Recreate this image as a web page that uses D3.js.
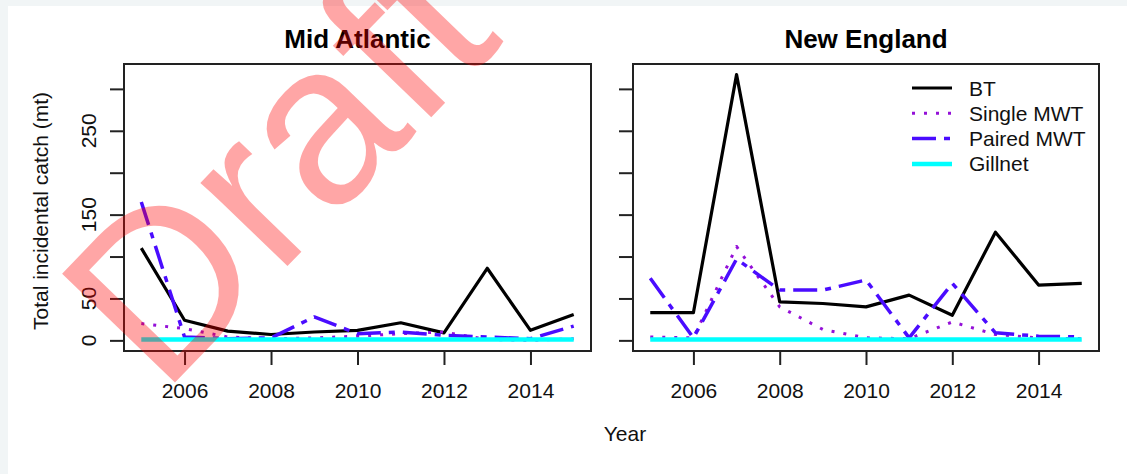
<!DOCTYPE html>
<html><head><meta charset="utf-8">
<script src="https://cdn.jsdelivr.net/npm/d3@7"></script>
<style>html,body{margin:0;padding:0;background:#fff;}svg{display:block;}</style>
</head><body>
<script>
// ---- data ----
const years = [2005, 2006, 2007, 2008, 2009, 2010, 2011, 2012, 2013, 2014, 2015];
const maBT     = [110, 24, 11, 7, 10, 12, 21, 9, 86, 12, 31];
const maSingle = [20, 14, 4, 2, 3, 5, 8, 10, 1, 0, 2];
const maPaired = [165, 4, 2, 3, 28, 8, 10, 6, 4, 2, 17];
const maGill   = [1, 1, 1, 1, 1, 1, 1, 1, 1, 1, 1];
const neBT     = [33, 33, 317, 46, 44, 40, 54, 30, 129, 66, 68];
const neSingle = [4, 3, 112, 40, 13, 3, 2, 22, 7, 3, 2];
const nePaired = [74, 3, 97, 60, 60, 72, 3, 68, 9, 5, 4];
const neGill   = [1, 1, 1, 1, 1, 1, 1, 1, 1, 1, 1];
const panelTitles = ["Mid Atlantic", "New England"];
const seriesNames = ["BT", "Single MWT", "Paired MWT", "Gillnet"];
const xTicks = [2006, 2008, 2010, 2012, 2014];
const yTicks = [0, 50, 100, 150, 200, 250, 300];
const yLabelled = [0, 50, 150, 250];

// ---- styles ----
const styles = [
  {color: "#000000", width: 3.2, dash: null},
  {color: "#9410d8", width: 3, dash: "3,9"},
  {color: "#4a0cff", width: 3.5, dash: "24,8,6,8"},
  {color: "#00ffff", width: 4.5, dash: null}
];
const W = 1127, H = 474;
const font = "'Liberation Sans', Arial, sans-serif";
const svg = d3.select("body").append("svg").attr("width", W).attr("height", H);
svg.append("rect").attr("width", W).attr("height", H).attr("fill", "#f1f5f6");
svg.append("rect").attr("x", 8).attr("y", 6).attr("width", W - 8).attr("height", H - 6).attr("fill", "#fff");

const panels = [
  {x0: 124, x1: 591, series: [maBT, maSingle, maPaired, maGill], labels: true},
  {x0: 633, x1: 1099, series: [neBT, neSingle, nePaired, neGill], labels: false}
];
const pTop = 64, pBottom = 351;
const all = panels.flatMap(p => p.series.flat());
const lo = d3.min(all), hi = d3.max(all), pad = (hi - lo) * 0.04;
const y = d3.scaleLinear().domain([lo - pad, hi + pad]).range([pBottom, pTop]);

panels.forEach((p, i) => {
  const x = d3.scaleLinear().domain([2005 - 0.4, 2015 + 0.4]).range([p.x0, p.x1]);
  const g = svg.append("g");
  p.series.forEach((vals, k) => {
    const line = d3.line().x((d, j) => x(years[j])).y(d => y(d));
    g.append("path").attr("d", line(vals)).attr("fill", "none")
      .attr("stroke", styles[k].color).attr("stroke-width", styles[k].width)
      .attr("stroke-dasharray", styles[k].dash).attr("stroke-linejoin", "round");
  });
  g.append("rect").attr("x", p.x0).attr("y", pTop).attr("width", p.x1 - p.x0).attr("height", pBottom - pTop)
    .attr("fill", "none").attr("stroke", "#222").attr("stroke-width", 2);
  const ya = g.append("g").attr("transform", `translate(${p.x0},0)`)
    .call(d3.axisLeft(y).tickValues(yTicks).tickSize(14).tickSizeOuter(0).tickFormat(""));
  ya.select(".domain").remove();
  ya.selectAll("line").attr("stroke", "#222").attr("stroke-width", 2);
  if (p.labels) {
    ya.selectAll("text.ylab").data(yLabelled).enter().append("text").attr("class", "ylab")
      .attr("transform", d => `translate(-28,${y(d)}) rotate(-90)`)
      .attr("text-anchor", "middle").attr("font-family", font).attr("font-size", 21).attr("fill", "#111").text(d => d);
  }
  const xa = g.append("g").attr("transform", `translate(0,${pBottom})`)
    .call(d3.axisBottom(x).tickValues(xTicks).tickSize(14).tickSizeOuter(0).tickFormat(d3.format("d")));
  xa.select(".domain").remove();
  xa.selectAll("line").attr("stroke", "#222").attr("stroke-width", 2);
  xa.selectAll("text").attr("font-family", font).attr("font-size", 21).attr("fill", "#111")
    .attr("dy", null).attr("y", 47);
  g.append("text").attr("x", (p.x0 + p.x1) / 2).attr("y", 48).attr("text-anchor", "middle")
    .attr("font-family", font).attr("font-weight", "bold").attr("font-size", 26).attr("fill", "#000")
    .text(panelTitles[i]);
});

const lg = svg.append("g");
seriesNames.forEach((name, k) => {
  const ly = 88 + k * 25.3;
  lg.append("line").attr("x1", 912).attr("x2", 952).attr("y1", ly).attr("y2", ly)
    .attr("stroke", styles[k].color).attr("stroke-width", styles[k].width).attr("stroke-dasharray", styles[k].dash);
  lg.append("text").attr("x", 969).attr("y", ly + 7.5).attr("font-family", font).attr("font-size", 21)
    .attr("fill", "#111").text(name);
});

svg.append("text").attr("transform", "translate(48,211) rotate(-90)").attr("text-anchor", "middle")
  .attr("font-family", font).attr("font-size", 21).attr("fill", "#111").text("Total incidental catch (mt)");
svg.append("text").attr("x", 625).attr("y", 441).attr("text-anchor", "middle")
  .attr("font-family", font).attr("font-size", 21).attr("fill", "#111").text("Year");

svg.append("text").attr("transform", "translate(162,396) rotate(-46)")
  .attr("font-family", font).attr("font-size", 228)
  .attr("fill", "rgba(255,0,0,0.35)").text("Draft for Review");
</script>
</body></html>
